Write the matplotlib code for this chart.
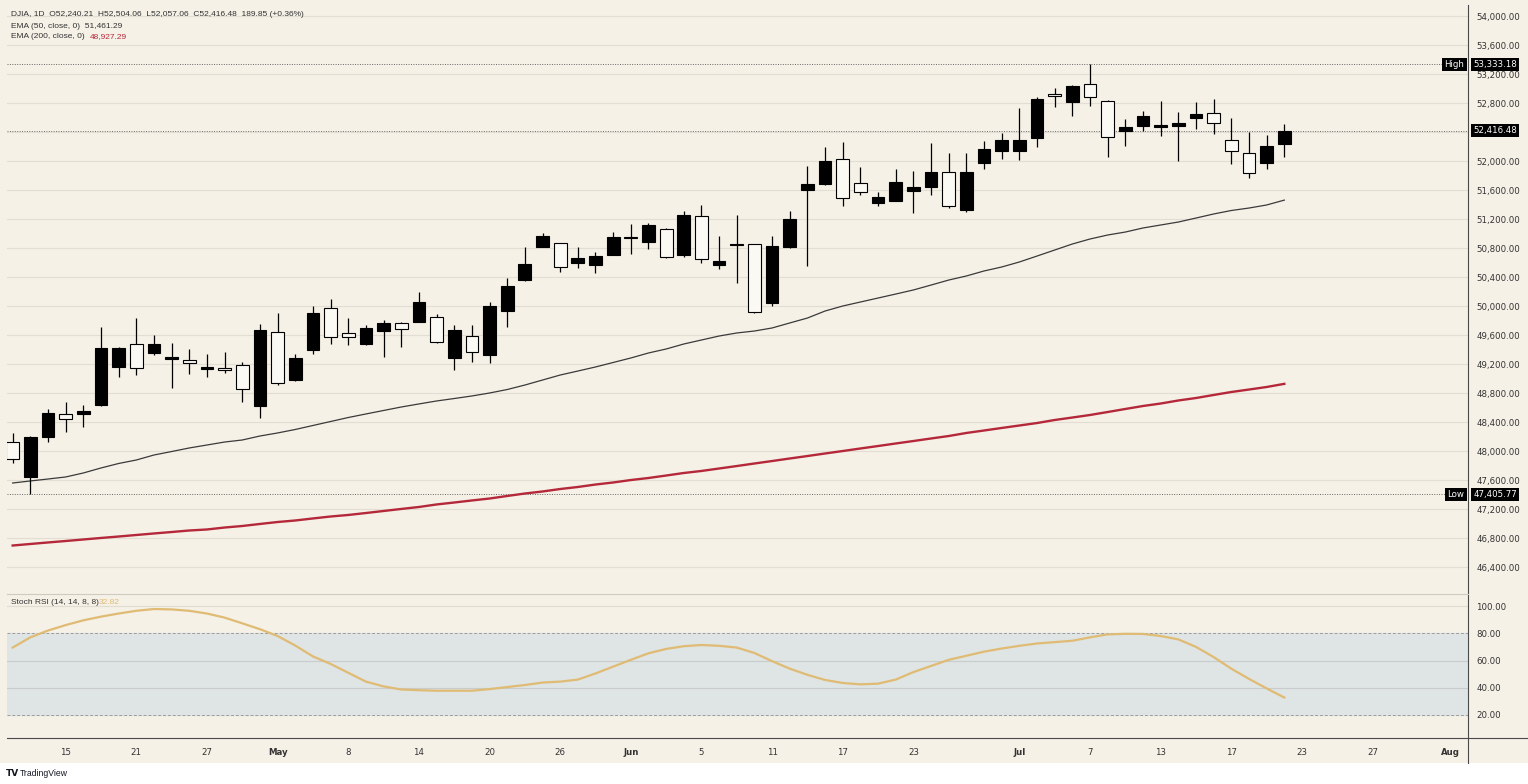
import matplotlib
matplotlib.use("Agg")
import matplotlib.pyplot as plt
from matplotlib.lines import Line2D
from matplotlib.patches import Rectangle
from matplotlib.ticker import FuncFormatter
import matplotlib.transforms as mtransforms

# ---- data (daily DJIA candles, Apr 10 .. Jul 22) ----
opens = [48130, 47647, 48190, 48512, 48507, 48636, 49156, 49473, 49349, 49270,
         49256, 49136, 49146, 49183, 48622, 49647, 48976, 49394, 49969, 49624,
         49473, 49652, 49762, 49784, 49845, 49280, 49587, 49325, 49932, 50355,
         50819, 50866, 50598, 50570, 50704, 50950, 50888, 51059, 50704, 51246,
         50562, 50845, 50852, 50038, 50810, 51601, 51679, 52024, 51693, 51425,
         51453, 51587, 51638, 51845, 51325, 51977, 52143, 52143, 52313, 52924,
         52810, 53058, 52828, 52418, 52483, 52465, 52483, 52598, 52658, 52290,
         52107, 51969, 52240.21]
highs = [48254, 48210, 48576, 48681, 48636, 49715, 49440, 49831, 49601, 49495,
         49408, 49335, 49371, 49233, 49753, 49909, 49335, 50001, 50097, 49831,
         49739, 49808, 49776, 50190, 49891, 49739, 49739, 50060, 50383, 50819,
         51003, 50870, 50810, 50750, 51017, 51132, 51150, 51073, 51315, 51394,
         50966, 51256, 50860, 50966, 51315, 51936, 52189, 52267, 51922, 51577,
         51886, 51867, 52253, 52115, 52115, 52280, 52382, 52727, 52887, 53003,
         53045, 53333.18, 52835, 52575, 52694, 52832, 52680, 52818, 52851, 52598,
         52396, 52359, 52504.06]
lows = [47840, 47405.77, 48130, 48267, 48328, 48620, 49026, 49049, 49325, 48866,
        49063, 49018, 49073, 48681, 48461, 48911, 48970, 49339, 49477, 49463,
        49460, 49302, 49440, 49780, 49495, 49118, 49233, 49219, 49707, 50350,
        50810, 50466, 50521, 50452, 50700, 50714, 50783, 50667, 50681, 50590,
        50507, 50314, 49905, 50001, 50800, 50552, 51670, 51380, 51532, 51380,
        51445, 51288, 51532, 51348, 51301, 51886, 52024, 52014, 52198, 52741,
        52625, 52763, 52051, 52211, 52414, 52345, 52005, 52442, 52369, 51955,
        51770, 51886, 52057.06]
closes = [47891, 48198, 48521, 48443, 48553, 49426, 49426, 49142, 49473, 49302,
          49211, 49164, 49118, 48852, 49670, 48943, 49288, 49900, 49578, 49569,
          49693, 49762, 49680, 50060, 49509, 49670, 49371, 50001, 50277, 50584,
          50970, 50535, 50659, 50690, 50957, 50940, 51118, 50681, 51256, 50649,
          50621, 50855, 49914, 50828, 51196, 51683, 52000, 51486, 51569, 51508,
          51707, 51646, 51853, 51384, 51845, 52166, 52290, 52290, 52851, 52897,
          53039, 52879, 52327, 52465, 52621, 52493, 52520, 52644, 52529, 52143,
          51831, 52211, 52416.48]

ema50 = [47560, 47588, 47615, 47643, 47698, 47767, 47829, 47877, 47946, 47994,
         48043, 48084, 48125, 48153, 48208, 48250, 48298, 48353, 48408, 48463,
         48512, 48560, 48608, 48650, 48691, 48725, 48760, 48801, 48849, 48911,
         48980, 49049, 49104, 49160, 49222, 49284, 49353, 49408, 49477, 49532,
         49587, 49629, 49656, 49698, 49767, 49835, 49932, 50001, 50056, 50111,
         50166, 50222, 50290, 50359, 50415, 50484, 50539, 50608, 50690, 50773,
         50856, 50925, 50980, 51021, 51077, 51118, 51159, 51214, 51270, 51318,
         51352, 51394, 51461.29]
ema200 = [46698, 46719, 46740, 46760, 46781, 46802, 46822, 46843, 46864, 46884,
          46905, 46919, 46946, 46967, 46995, 47022, 47043, 47071, 47098, 47119,
          47146, 47174, 47202, 47229, 47264, 47291, 47319, 47346, 47381, 47415,
          47443, 47477, 47505, 47539, 47567, 47601, 47629, 47663, 47698, 47726,
          47760, 47794, 47829, 47863, 47898, 47932, 47967, 48001, 48036, 48070,
          48105, 48139, 48174, 48208, 48250, 48284, 48319, 48353, 48387, 48429,
          48463, 48498, 48539, 48581, 48622, 48656, 48698, 48732, 48774, 48815,
          48849, 48884, 48927.29]
stoch_rsi = [69.5, 77, 82, 86, 89.5, 92.2, 94.5, 96.5, 97.8, 97.5,
             96.5, 94.5, 91.5, 87.3, 83, 78, 71, 63, 57.5, 51,
             44.5, 41, 38.7, 38.2, 37.8, 37.8, 37.8, 39, 40.5, 42,
             43.8, 44.5, 46, 50.5, 55.5, 60.5, 65.3, 68.5, 70.5, 71.4,
             70.8, 69.5, 65.5, 59.5, 54, 49.5, 45.7, 43.5, 42.5, 43,
             46, 51.5, 56, 60.5, 63.5, 66.5, 68.8, 70.8, 72.5, 73.5,
             74.5, 77, 79.2, 79.6, 79.5, 78, 75.5, 70, 62.5, 54,
             46.5, 39.5, 32.82]

tick_idx = [3, 7, 11, 15, 19, 23, 27, 31, 35, 39, 43, 47, 51, 57, 61, 65, 69, 73, 77, 81.4]
tick_lab = ['15', '21', '27', 'May', '8', '14', '20', '26', 'Jun', '5', '11', '17', '23',
            'Jul', '7', '13', '17', '23', '27', 'Aug']
month_lab = ['May', 'Jun', 'Jul', 'Aug']

last_price = 52416.48
high_price = 53333.18
low_price = 47405.77

# ---- layout ----
W, H = 1528, 784
BG = '#f5f1e7'
plt.rcParams['font.family'] = ['DejaVu Sans']

def fx(px):
    return px / W

def fy(py):
    return 1 - py / H

fig = plt.figure(figsize=(W / 100, H / 100), dpi=100, facecolor=BG)
fig.patches.append(Rectangle((0, 0), 1, fy(763), transform=fig.transFigure,
                             facecolor='white', edgecolor='none', zorder=0))

ax = fig.add_axes([fx(7), fy(593), fx(1468) - fx(7), fy(5) - fy(593)])
ax2 = fig.add_axes([fx(7), fy(738), fx(1468) - fx(7), fy(595) - fy(738)], sharex=ax)
for a in (ax, ax2):
    a.set_facecolor(BG)
    for s in a.spines.values():
        s.set_visible(False)

x = list(range(len(closes)))

# candles
for i in x:
    o, h, l, c = opens[i], highs[i], lows[i], closes[i]
    ax.vlines(i, l, h, color='black', lw=0.9, zorder=3)
    fill = 'black' if c >= o else '#fbf9f4'
    ax.bar(i, max(abs(c - o), 8), bottom=min(o, c), width=0.72, color=fill,
           edgecolor='black', linewidth=0.8, zorder=4)

ax.plot(x, ema50, color='#3a3a3a', lw=0.9, zorder=2)
ax.plot(x, ema200, color='#b5283a', lw=1.7, zorder=2)

# price labels hidden behind the marker boxes are left out
hidden = (52400, 47400)

def price_fmt(v, p):
    if round(v) in hidden:
        return ''
    return f'{v:,.2f}'

ax.set_xlim(-0.32, 82.4)
ax.set_ylim(46043, 54152)
ax.set_yticks(range(46400, 54001, 400))
ax.yaxis.tick_right()
ax.yaxis.set_major_formatter(FuncFormatter(price_fmt))
ax.tick_params(axis='y', length=0, pad=6, labelsize=6.2, labelcolor='#333333')
ax.tick_params(axis='x', length=0, labelbottom=False)
ax.grid(axis='y', color='#e2ded4', lw=0.8, zorder=0)

# dotted reference lines
for p in (high_price, last_price, low_price):
    ax.axhline(p, color='#666666', lw=0.7, ls=(0, (1, 1.5)), zorder=1)

trans = mtransforms.blended_transform_factory(ax.transAxes, ax.transData)
box = dict(boxstyle='square,pad=0.25', facecolor='black', edgecolor='none')
for p in (last_price, high_price, low_price):
    ax.text(1.0035, p, f'{p:,.2f}', transform=trans, ha='left', va='center',
            fontsize=6.2, color='white', bbox=box, clip_on=False, zorder=10)
ax.text(0.9975, high_price, 'High', transform=trans, ha='right', va='center',
        fontsize=6.2, color='white', bbox=box, clip_on=False, zorder=10)
ax.text(0.9975, low_price, 'Low', transform=trans, ha='right', va='center',
        fontsize=6.2, color='white', bbox=box, clip_on=False, zorder=10)

# stoch rsi panel
ax2.axhspan(20, 80, color='#dfe4e4', zorder=0)
ax2.axhline(100, color='#e0dcd2', lw=0.8, zorder=1)
for lv in (40, 60):
    ax2.axhline(lv, color='#c9ccca', lw=0.8, zorder=1)
for lv in (20, 80):
    ax2.axhline(lv, color='#9c9c9c', lw=0.7, ls=(0, (3, 2)), zorder=1)
ax2.plot(x, stoch_rsi, color='#dfbb74', lw=1.6, zorder=3)
ax2.set_ylim(3.1, 108.1)
ax2.set_yticks([20, 40, 60, 80, 100])
ax2.yaxis.tick_right()
ax2.yaxis.set_major_formatter(FuncFormatter(lambda v, p: f'{v:.2f}'))
ax2.tick_params(axis='y', length=0, pad=6, labelsize=6.2, labelcolor='#333333')
ax2.set_xticks(tick_idx)
ax2.set_xticklabels(tick_lab)
ax2.tick_params(axis='x', length=0, pad=7, labelsize=6.2, labelcolor='#333333')
for t in ax2.get_xticklabels():
    if t.get_text() in month_lab:
        t.set_fontweight('bold')

# frame lines
fig.add_artist(Line2D([fx(1468)] * 2, [fy(5), fy(763)], color='#4a4a4a', lw=0.8))
fig.add_artist(Line2D([fx(7), 1], [fy(738)] * 2, color='#4a4a4a', lw=0.8))
fig.add_artist(Line2D([fx(7), fx(1468)], [fy(594)] * 2, color='#cfcbc0', lw=0.8))

# legend texts
fs = 6.0
lf = ['Liberation Sans', 'DejaVu Sans']
fig.text(fx(11), fy(15), 'DJIA, 1D  O52,240.21  H52,504.06  L52,057.06  C52,416.48  189.85 (+0.36%)',
         fontsize=fs, family=lf, color='#333333', va='center')
fig.text(fx(11), fy(26), 'EMA (50, close, 0)  51,461.29', fontsize=fs, family=lf,
         color='#333333', va='center')
fig.text(fx(11), fy(37), 'EMA (200, close, 0)', fontsize=fs, family=lf, color='#333333', va='center')
fig.text(fx(90), fy(37), '48,927.29', fontsize=fs, family=lf, color='#b5283a', va='center')
fig.text(fx(11), fy(603), 'Stoch RSI (14, 14, 8, 8)', fontsize=fs, family=lf,
         color='#333333', va='center')
fig.text(fx(99), fy(603), '32.82', fontsize=fs, family=lf, color='#dfbb74', va='center')

fig.text(fx(6), fy(773), 'TV', fontsize=6.5, fontweight='bold', color='#131722', va='center')
fig.text(fx(20), fy(773), 'TradingView', fontsize=6.2, family=lf, color='#131722', va='center')

fig.savefig('out.png', dpi=100, facecolor=fig.get_facecolor())
